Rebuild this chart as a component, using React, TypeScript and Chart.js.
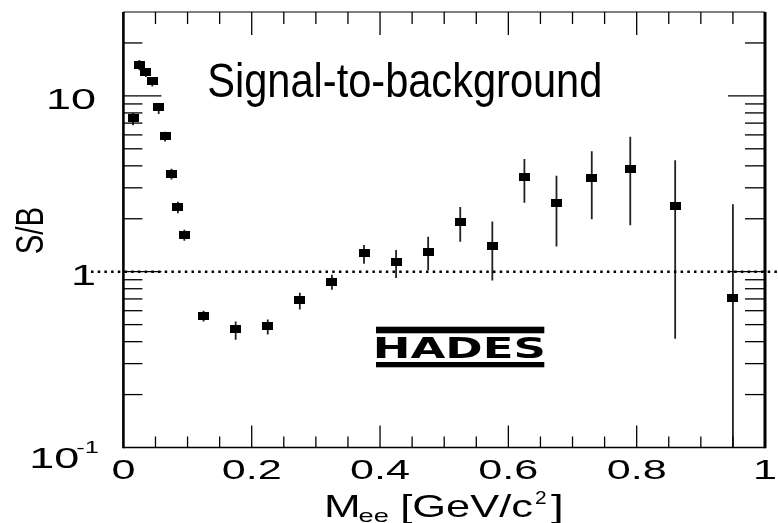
import React, { useEffect, useRef } from "react";
import { Chart, registerables } from "chart.js";

Chart.register(...registerables);

// ---- data ----
const massX = [0.015, 0.025, 0.035, 0.045, 0.055, 0.065, 0.075, 0.085, 0.095, 0.125, 0.175, 0.225, 0.275, 0.325, 0.375, 0.425, 0.475, 0.525, 0.575, 0.625, 0.675, 0.73, 0.79, 0.86, 0.95];
const sbValues = [7.5, 15.0, 13.6, 12.1, 8.6, 5.9, 3.6, 2.33, 1.61, 0.56, 0.47, 0.49, 0.69, 0.87, 1.27, 1.13, 1.3, 1.91, 1.4, 3.44, 2.45, 3.39, 3.84, 2.37, 0.71];
const errLow = [6.8, 14.0, 12.8, 11.3, 7.9, 5.5, 3.35, 2.15, 1.5, 0.52, 0.41, 0.44, 0.61, 0.79, 1.11, 0.92, 1.02, 1.48, 0.89, 2.47, 1.39, 1.99, 1.84, 0.415, 0.1];
const errHigh = [8.0, 16.0, 14.4, 12.8, 9.1, 6.25, 3.85, 2.5, 1.73, 0.6, 0.52, 0.535, 0.76, 0.96, 1.42, 1.33, 1.58, 2.33, 1.93, 4.38, 3.51, 4.84, 5.85, 4.3, 2.42];

const xTickValues = [0, 0.2, 0.4, 0.6, 0.8, 1];
const xTickLabels = ["0", "0.2", "0.4", "0.6", "0.8", "1"];
const xMinorStep = 0.05;
const yTickValues = [0.1, 1, 10];
const yTickLabels = ["10", "1", "10"];
const yTickSups = ["-1", "", ""];
const titleText = "Signal-to-background";
const xTitleParts = ["M", "ee", "[GeV/c", "2", "]"];
const yTitle = "S/B";
const logoText = "HADES";
const referenceLevel = 1;

const FONT = '"Liberation Sans", Arial, Helvetica, sans-serif';

function fitText(ctx: CanvasRenderingContext2D, text: string, font: string, inkL: number, inkR: number, baseline: number, inkTop?: number) {
  ctx.save();
  ctx.font = font;
  ctx.textAlign = "left";
  ctx.textBaseline = "alphabetic";
  const m = ctx.measureText(text);
  const inkW = m.actualBoundingBoxLeft + m.actualBoundingBoxRight;
  const sx = (inkR - inkL) / inkW;
  const sy = inkTop !== undefined ? (baseline - inkTop) / m.actualBoundingBoxAscent : 1;
  ctx.translate(inkL, baseline);
  ctx.scale(sx, sy);
  ctx.fillStyle = "#000";
  ctx.fillText(text, m.actualBoundingBoxLeft, 0);
  ctx.restore();
}

function scaledText(ctx: CanvasRenderingContext2D, text: string, font: string, x: number, baseline: number, sx: number, align: CanvasTextAlign) {
  ctx.save();
  ctx.font = font;
  ctx.textAlign = align;
  ctx.textBaseline = "alphabetic";
  ctx.translate(x, baseline);
  ctx.scale(sx, 1);
  ctx.fillStyle = "#000";
  ctx.fillText(text, 0, 0);
  const w = ctx.measureText(text).width * sx;
  ctx.restore();
  return w;
}

const rootStyle = {
  id: "rootStyle",
  beforeDatasetsDraw(chart: any) {
    const { ctx, chartArea: a, scales } = chart;
    const xs = scales.x;
    const ys = scales.y;
    // error bars
    ctx.save();
    ctx.beginPath();
    ctx.rect(a.left, a.top, a.right - a.left, a.bottom - a.top);
    ctx.clip();
    ctx.strokeStyle = "#222";
    ctx.lineWidth = 1.8;
    massX.forEach((m, i) => {
      const px = xs.getPixelForValue(m);
      ctx.beginPath();
      ctx.moveTo(px, ys.getPixelForValue(errLow[i]));
      ctx.lineTo(px, ys.getPixelForValue(errHigh[i]));
      ctx.stroke();
    });
    ctx.restore();

    // dotted reference line
    ctx.save();
    const yr = ys.getPixelForValue(referenceLevel);
    ctx.strokeStyle = "#000";
    ctx.lineWidth = 2.5;
    ctx.lineCap = "butt";
    ctx.setLineDash([2.5, 4.2]);
    ctx.beginPath();
    ctx.moveTo(91, yr);
    ctx.lineTo(chart.width, yr);
    ctx.stroke();
    ctx.restore();
  },
  afterDraw(chart: any) {
    const { ctx, chartArea: a, scales } = chart;
    const xs = scales.x;
    const ys = scales.y;
    ctx.save();
    ctx.strokeStyle = "#000";
    const line = (x1: number, y1: number, x2: number, y2: number, w: number) => {
      ctx.lineWidth = w;
      ctx.beginPath();
      ctx.moveTo(x1, y1);
      ctx.lineTo(x2, y2);
      ctx.stroke();
    };
    // frame
    line(a.left, a.top, a.right, a.top, 1.2);
    line(a.left, a.bottom, a.right, a.bottom, 1.5);
    line(a.left, a.top, a.left, a.bottom + 0.7, 2.6);
    line(a.right, a.top, a.right, a.bottom + 0.7, 3);

    // x ticks (top and bottom, inward)
    const nx = Math.round((xs.max - xs.min) / xMinorStep);
    for (let i = 1; i < nx; i++) {
      const v = xs.min + i * xMinorStep;
      const px = xs.getPixelForValue(v);
      const major = i % 4 === 0;
      line(px, a.bottom, px, a.bottom - (major ? 22 : 11), 1.3);
      line(px, a.top, px, a.top + (major ? 23 : 12), 1.3);
    }
    // y ticks (left and right, inward)
    for (let d = -1; d <= 1; d++) {
      for (let k = 1; k <= 9; k++) {
        const v = k * Math.pow(10, d);
        if (v <= ys.min || v >= ys.max) continue;
        const py = ys.getPixelForValue(v);
        const major = k === 1;
        line(a.left, py, a.left + (major ? 38 : 19), py, 1.3);
        line(a.right, py, a.right - (major ? 37 : 20), py, 1.3);
      }
    }
    ctx.restore();

    // x tick labels
    xTickValues.forEach((v, i) => {
      scaledText(ctx, xTickLabels[i], `27px ${FONT}`, xs.getPixelForValue(v), a.bottom + 31.8, 1.6, "center");
    });
    // y tick labels
    yTickValues.forEach((v, i) => {
      const py = ys.getPixelForValue(v);
      if (yTickSups[i]) {
        const supRight = 99;
        const w = scaledText(ctx, yTickSups[i], `17px ${FONT}`, supRight, py + 5.5, 1.5, "right");
        scaledText(ctx, yTickLabels[i], `29px ${FONT}`, supRight - w + 3, py + 20, 1.55, "right");
      } else {
        scaledText(ctx, yTickLabels[i], `29px ${FONT}`, 96, py + 13.4, 1.55, "right");
      }
    });

    // x axis title
    fitText(ctx, xTitleParts[0], `32px ${FONT}`, 326.7, 358.3, 516.5);
    fitText(ctx, xTitleParts[1], `19px ${FONT}`, 358.5, 388, 521.5);
    fitText(ctx, xTitleParts[2], `32px ${FONT}`, 403, 533, 516.5);
    fitText(ctx, xTitleParts[3], `19px ${FONT}`, 535, 546, 504);
    fitText(ctx, xTitleParts[4], `32px ${FONT}`, 551, 561, 516.5);

    // y axis title (rotated)
    ctx.save();
    ctx.font = `29px ${FONT}`;
    ctx.textAlign = "left";
    ctx.textBaseline = "alphabetic";
    const m = ctx.measureText(yTitle);
    const inkW = m.actualBoundingBoxLeft + m.actualBoundingBoxRight;
    ctx.translate(43.3, 253.3);
    ctx.rotate(-Math.PI / 2);
    ctx.scale(45 / inkW, 30 / m.actualBoundingBoxAscent);
    ctx.fillStyle = "#000";
    ctx.fillText(yTitle, m.actualBoundingBoxLeft, 0);
    ctx.restore();

    // title
    fitText(ctx, titleText, `48px ${FONT}`, 209, 600, 96.7, 61.7);

    // HADES logo
    ctx.save();
    ctx.fillStyle = "#000";
    ctx.fillRect(376, 326.7, 168.3, 6.6);
    ctx.fillRect(376, 362, 168.3, 5.3);
    ctx.restore();
    fitText(ctx, logoText, `900 28px "DejaVu Sans", ${FONT}`, 376, 544, 358, 337);
  },
};

export default function App() {
  const ref = useRef<HTMLCanvasElement>(null);
  useEffect(() => {
    const canvas = ref.current!;
    const marker = document.createElement("canvas");
    marker.width = 11;
    marker.height = 8;
    const mctx = marker.getContext("2d")!;
    mctx.fillStyle = "#000";
    mctx.fillRect(0, 0, 11, 8);
    const chart = new Chart(canvas, {
      type: "scatter",
      data: {
        datasets: [
          {
            data: massX.map((x, i) => ({ x, y: sbValues[i] })),
            pointStyle: marker as any,
            pointRadius: 6,
            showLine: false,
          },
        ],
      },
      options: {
        animation: false,
        responsive: false,
        devicePixelRatio: 1,
        events: [],
        layout: { padding: { left: 123.4, right: 13, top: 12, bottom: 75.5 } },
        plugins: { legend: { display: false }, tooltip: { enabled: false }, title: { display: false } },
        scales: {
          x: { type: "linear", min: 0, max: 1, display: false },
          y: { type: "logarithmic", min: 0.1, max: 30, display: false },
        },
      },
      plugins: [rootStyle as any],
    });
    return () => chart.destroy();
  }, []);
  return (
    <canvas
      ref={ref}
      width={778}
      height={523}
      style={{ position: "fixed", left: 0, top: 0, display: "block", background: "#fff" }}
    />
  );
}
